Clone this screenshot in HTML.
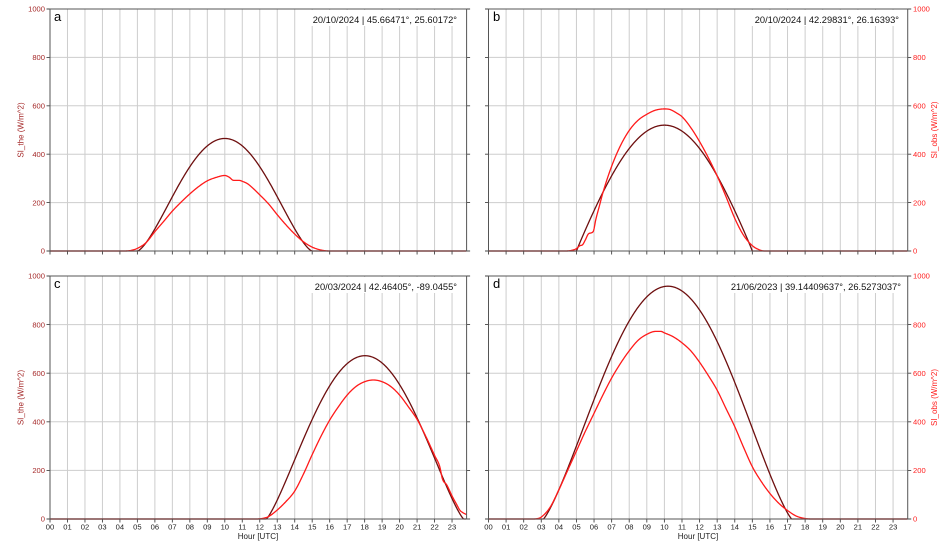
<!DOCTYPE html>
<html><head><meta charset="utf-8">
<style>
html,body{margin:0;padding:0;background:#fff;}
svg{display:block;font-family:"Liberation Sans",Arial,sans-serif;}
.tl{font-size:7.6px;fill:#222;text-anchor:middle;}
.yl{font-size:7.6px;fill:#a52a2a;text-anchor:end;}
.yr{font-size:7.6px;fill:#ff2020;text-anchor:start;}
.tt{font-size:9.3px;fill:#111;text-anchor:end;}
.lt{font-size:13px;fill:#000;}
.al{font-size:8px;fill:#222;text-anchor:middle;}
</style></head><body>
<svg id="s" width="948" height="553" viewBox="0 0 948 553" xmlns="http://www.w3.org/2000/svg">
<rect x="0" y="0" width="948" height="553" fill="#fff"/>
<g id="grid"></g>
<g id="curves"></g>
<!-- title boxes -->
<rect x="308" y="10" width="153" height="16" fill="#fff"/>
<rect x="750" y="10" width="153" height="16" fill="#fff"/>
<rect x="308" y="277" width="153" height="16" fill="#fff"/>
<rect x="723" y="277" width="182" height="16" fill="#fff"/>
<g id="axes"></g>

<text class="tt" x="457" y="23">20/10/2024 | 45.66471°, 25.60172°</text>
<text class="tt" x="899" y="23">20/10/2024 | 42.29831°, 26.16393°</text>
<text class="tt" x="457" y="290">20/03/2024 | 42.46405°, -89.0455°</text>
<text class="tt" x="901" y="290">21/06/2023 | 39.14409637°, 26.5273037°</text>

<text class="lt" x="54" y="21">a</text>
<text class="lt" x="493" y="21">b</text>
<text class="lt" x="54" y="288">c</text>
<text class="lt" x="493" y="288">d</text>

<!-- left y labels -->
<text class="yl" x="45" y="11.7">1000</text>
<text class="yl" x="45" y="60.1">800</text>
<text class="yl" x="45" y="108.5">600</text>
<text class="yl" x="45" y="156.9">400</text>
<text class="yl" x="45" y="205.3">200</text>
<text class="yl" x="45" y="253.7">0</text>
<text class="yl" x="45" y="278.7">1000</text>
<text class="yl" x="45" y="327.3">800</text>
<text class="yl" x="45" y="375.9">600</text>
<text class="yl" x="45" y="424.5">400</text>
<text class="yl" x="45" y="473.1">200</text>
<text class="yl" x="45" y="521.7">0</text>
<!-- right y labels -->
<text class="yr" x="913" y="11.7">1000</text>
<text class="yr" x="913" y="60.1">800</text>
<text class="yr" x="913" y="108.5">600</text>
<text class="yr" x="913" y="156.9">400</text>
<text class="yr" x="913" y="205.3">200</text>
<text class="yr" x="913" y="253.7">0</text>
<text class="yr" x="913" y="278.7">1000</text>
<text class="yr" x="913" y="327.3">800</text>
<text class="yr" x="913" y="375.9">600</text>
<text class="yr" x="913" y="424.5">400</text>
<text class="yr" x="913" y="473.1">200</text>
<text class="yr" x="913" y="521.7">0</text>

<!-- axis titles -->
<text transform="translate(23.5,130) rotate(-90)" style="font-size:8px;fill:#a52a2a;text-anchor:middle">SI_the (W/m^2)</text>
<text transform="translate(23.5,397.5) rotate(-90)" style="font-size:8px;fill:#a52a2a;text-anchor:middle">SI_the (W/m^2)</text>
<text transform="translate(937,130) rotate(-90)" style="font-size:8px;fill:#ff2020;text-anchor:middle">SI_obs (W/m^2)</text>
<text transform="translate(937,397.5) rotate(-90)" style="font-size:8px;fill:#ff2020;text-anchor:middle">SI_obs (W/m^2)</text>
<text class="al" x="258" y="539">Hour [UTC]</text>
<text class="al" x="698" y="539">Hour [UTC]</text>

<!-- x tick labels panel c -->
<text class="tl" x="50" y="529.5">00</text>
<text class="tl" x="67.5" y="529.5">01</text>
<text class="tl" x="85" y="529.5">02</text>
<text class="tl" x="102.4" y="529.5">03</text>
<text class="tl" x="119.9" y="529.5">04</text>
<text class="tl" x="137.4" y="529.5">05</text>
<text class="tl" x="154.9" y="529.5">06</text>
<text class="tl" x="172.4" y="529.5">07</text>
<text class="tl" x="189.8" y="529.5">08</text>
<text class="tl" x="207.3" y="529.5">09</text>
<text class="tl" x="224.8" y="529.5">10</text>
<text class="tl" x="242.3" y="529.5">11</text>
<text class="tl" x="259.8" y="529.5">12</text>
<text class="tl" x="277.2" y="529.5">13</text>
<text class="tl" x="294.7" y="529.5">14</text>
<text class="tl" x="312.2" y="529.5">15</text>
<text class="tl" x="329.7" y="529.5">16</text>
<text class="tl" x="347.2" y="529.5">17</text>
<text class="tl" x="364.6" y="529.5">18</text>
<text class="tl" x="382.1" y="529.5">19</text>
<text class="tl" x="399.6" y="529.5">20</text>
<text class="tl" x="417.1" y="529.5">21</text>
<text class="tl" x="434.6" y="529.5">22</text>
<text class="tl" x="452" y="529.5">23</text>
<!-- x tick labels panel d -->
<text class="tl" x="488.5" y="529.5">00</text>
<text class="tl" x="506.1" y="529.5">01</text>
<text class="tl" x="523.7" y="529.5">02</text>
<text class="tl" x="541.3" y="529.5">03</text>
<text class="tl" x="558.9" y="529.5">04</text>
<text class="tl" x="576.5" y="529.5">05</text>
<text class="tl" x="594" y="529.5">06</text>
<text class="tl" x="611.6" y="529.5">07</text>
<text class="tl" x="629.2" y="529.5">08</text>
<text class="tl" x="646.8" y="529.5">09</text>
<text class="tl" x="664.4" y="529.5">10</text>
<text class="tl" x="682" y="529.5">11</text>
<text class="tl" x="699.6" y="529.5">12</text>
<text class="tl" x="717.2" y="529.5">13</text>
<text class="tl" x="734.8" y="529.5">14</text>
<text class="tl" x="752.4" y="529.5">15</text>
<text class="tl" x="769.9" y="529.5">16</text>
<text class="tl" x="787.5" y="529.5">17</text>
<text class="tl" x="805.1" y="529.5">18</text>
<text class="tl" x="822.7" y="529.5">19</text>
<text class="tl" x="840.3" y="529.5">20</text>
<text class="tl" x="857.9" y="529.5">21</text>
<text class="tl" x="875.5" y="529.5">22</text>
<text class="tl" x="893.1" y="529.5">23</text>
</svg>
<script>
(function(){
var NS="http://www.w3.org/2000/svg";
var TMAX=23.833;
function el(parent,tag,attrs){var e=document.createElementNS(NS,tag);for(var k in attrs)e.setAttribute(k,attrs[k]);parent.appendChild(e);return e;}
function mono(pts){
  var xs=pts.map(function(p){return p[0];}),ys=pts.map(function(p){return p[1];});
  var n=xs.length,d=[],m=[];
  for(var k=0;k<n-1;k++)d.push((ys[k+1]-ys[k])/(xs[k+1]-xs[k]));
  m[0]=d[0];m[n-1]=d[n-2];
  for(k=1;k<n-1;k++){m[k]=(d[k-1]*d[k]<=0)?0:(d[k-1]+d[k])/2;}
  for(k=0;k<n-1;k++){
    if(d[k]===0){m[k]=0;m[k+1]=0;continue;}
    var a=m[k]/d[k],b=m[k+1]/d[k],s=a*a+b*b;
    if(s>9){var tau=3/Math.sqrt(s);m[k]=tau*a*d[k];m[k+1]=tau*b*d[k];}
  }
  return function(x){
    if(x<=xs[0])return ys[0];
    if(x>=xs[n-1])return ys[n-1];
    var k=0;while(k<n-2&&x>xs[k+1])k++;
    var h=xs[k+1]-xs[k],t=(x-xs[k])/h,t2=t*t,t3=t2*t;
    return (2*t3-3*t2+1)*ys[k]+(t3-2*t2+t)*h*m[k]+(-2*t3+3*t2)*ys[k+1]+(t3-t2)*h*m[k+1];
  };
}
function darkF(o){
  return function(t){
    var dd=t-o.c,w=dd<0?o.wl:o.wr,d=Math.abs(dd);
    if(d>=w)return 0;
    var g;
    if(o.s){g=Math.cos(Math.PI/2*d/w);}
    else{
      var cw=Math.cos(w*15*Math.PI/180);
      g=(Math.cos(d*15*Math.PI/180)-cw)/(1-cw);
    }
    if(g<=0)return 0;
    return o.A*Math.pow(g,o.p);
  };
}
var panels=[
 {x0:50,sx:17.48,y0:251,sy:0.242,
  dark:{A:465,c:10,wl:5,wr:5,p:1.45},
  red:[[0,0],[4.2,0],[4.6,2],[5,11],[5.5,35],[6,80],[6.5,122],[7,165],[7.5,202],[8,236],[8.5,266],[9,290],[9.5,304],[10,312],[10.25,305],[10.5,292],[10.8,292],[11,288],[11.3,278],[11.6,260],[12,232],[12.5,195],[13,150],[13.5,108],[14,70],[14.5,38],[15,16],[15.5,4],[16,0],[TMAX,0]]},
 {x0:488.5,sx:17.59,y0:251,sy:0.242,
  dark:{A:520,c:10,wl:5,wr:5,p:0.97,s:1},
  red:[[0,0],[4.4,0],[4.8,4],[5.0,10],[5.2,22],[5.35,26],[5.5,45],[5.7,72],[5.95,80],[6.1,130],[6.3,185],[6.5,240],[7,350],[7.5,435],[8,498],[8.5,540],[9,565],[9.5,582],[10,587],[10.3,585],[10.7,570],[11,555],[11.5,510],[12,452],[12.5,385],[13,310],[13.5,225],[14,135],[14.5,65],[15,22],[15.3,8],[15.7,0],[TMAX,0]]},
 {x0:50,sx:17.48,y0:519,sy:0.243,
  dark:{A:672,c:18.02,wl:5.65,wr:5.65,p:1.25},
  red:[[0,0],[11.8,0],[12.2,3],[12.5,10],[13,37],[13.5,72],[14,115],[14.5,185],[15,265],[15.5,340],[16,407],[16.5,462],[17,510],[17.5,545],[18,565],[18.5,572],[19,565],[19.5,545],[20,510],[20.5,462],[21,410],[21.5,340],[22,262],[22.3,215],[22.45,165],[22.7,140],[23,95],[23.3,55],[23.45,36],[23.6,27],[TMAX,18]]},
 {x0:488.5,sx:17.59,y0:519,sy:0.243,
  dark:{A:958,c:10.2,wl:7.08,wr:7.04,p:1.2},
  red:[[0,0],[2.5,0],[2.8,2],[3,8],[3.5,48],[4,120],[4.5,200],[5,280],[5.5,360],[6,435],[6.5,510],[7,580],[7.5,640],[8,692],[8.5,735],[9,760],[9.5,772],[9.8,772],[10,766],[10.5,750],[11,725],[11.5,692],[12,645],[12.5,590],[13,530],[13.5,455],[14,380],[14.5,295],[15,215],[15.5,155],[16,105],[16.5,65],[17,35],[17.5,12],[18,2],[18.4,0],[TMAX,0]]}
];
var grid=document.getElementById('grid'),cur=document.getElementById('curves'),ax=document.getElementById('axes');
panels.forEach(function(P){
  var xr=P.x0+TMAX*P.sx,ytop=P.y0-1000*P.sy;
  function X(t){return P.x0+t*P.sx;}
  function Y(v){return P.y0-v*P.sy;}
  var g='';
  for(var h=1;h<=23;h++){var x=X(h).toFixed(2);g+='M'+x+' '+ytop.toFixed(2)+'V'+P.y0;}
  for(var v=200;v<=800;v+=200){var y=Y(v).toFixed(2);g+='M'+P.x0+' '+y+'H'+xr.toFixed(2);}
  el(grid,'path',{d:g,stroke:'#cdcdcd','stroke-width':'1',fill:'none'});
  var df=darkF(P.dark),rf=mono(P.red),dp='',rp='';
  for(var t=0;t<=TMAX+1e-9;t+=0.02){
    var tt=Math.min(t,TMAX);
    dp+=(t===0?'M':'L')+X(tt).toFixed(2)+' '+Y(Math.max(0,df(tt))).toFixed(2);
    rp+=(t===0?'M':'L')+X(tt).toFixed(2)+' '+Y(Math.max(0,rf(tt))).toFixed(2);
  }
  el(cur,'path',{d:dp,stroke:'#6e0f0f','stroke-width':'1.3',fill:'none','stroke-linejoin':'round'});
  el(cur,'path',{d:rp,stroke:'#ff1a1a','stroke-width':'1.3',fill:'none','stroke-linejoin':'round'});
  var tk='';
  for(h=0;h<=23;h++){var x2=X(h).toFixed(2);tk+='M'+x2+' '+P.y0+'v3.5';}
  for(v=0;v<=1000;v+=200){var y2=Y(v).toFixed(2);tk+='M'+P.x0+' '+y2+'h-3.5M'+xr.toFixed(2)+' '+y2+'h3.5';}
  el(ax,'path',{d:tk,stroke:'#444','stroke-width':'0.9',fill:'none'});
  el(ax,'rect',{x:P.x0,y:ytop.toFixed(2),width:(xr-P.x0).toFixed(2),height:(P.y0-ytop).toFixed(2),fill:'none',stroke:'#555','stroke-width':'1'});
});
})();
</script>
</body></html>
